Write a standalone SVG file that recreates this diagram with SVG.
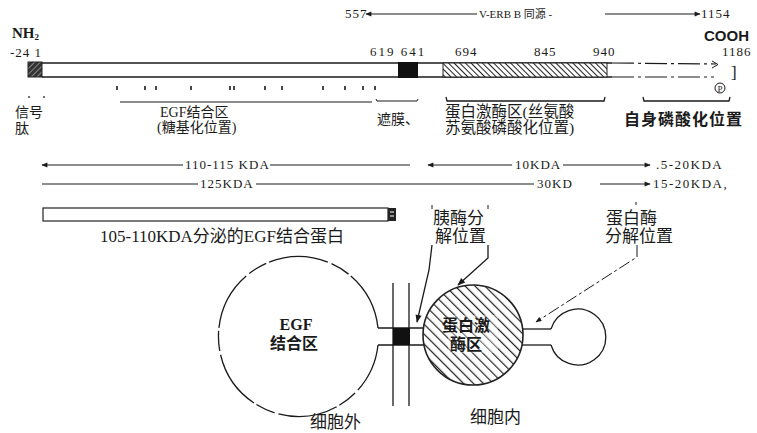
<svg xmlns="http://www.w3.org/2000/svg" width="757" height="433" viewBox="0 0 757 433">
  <style>
    text { font-family: "Liberation Serif", "Noto Sans CJK SC", serif; fill: #1a1a1a; }
    .num { font-size: 13px; letter-spacing: 1px; }
    .lbl { font-size: 14px; }
    .big { font-size: 17px; }
    .bold { font-weight: bold; }
    .ln { stroke: #1a1a1a; stroke-width: 1.3; fill: none; }
    .thin { stroke: #1a1a1a; stroke-width: 1; fill: none; }
    .dash { stroke: #1a1a1a; stroke-width: 1.2; fill: none; stroke-dasharray: 22 4 3 4; }
    .tick { stroke: #1a1a1a; stroke-width: 1.6; }
  </style>
  <defs>
    <marker id="arr" viewBox="0 0 10 10" refX="9" refY="5" markerWidth="7" markerHeight="6" orient="auto-start-reverse">
      <path d="M0,1 L10,5 L0,9 Z" fill="#1a1a1a"/>
    </marker>
    <pattern id="hatchK" width="4" height="4" patternUnits="userSpaceOnUse" patternTransform="rotate(-45)">
      <rect width="4" height="4" fill="#fff"/>
      <line x1="0" y1="0" x2="0" y2="4" stroke="#222" stroke-width="2"/>
    </pattern>
    <pattern id="hatchS" width="4" height="4" patternUnits="userSpaceOnUse" patternTransform="rotate(45)">
      <rect width="4" height="4" fill="#333"/>
      <line x1="0" y1="0" x2="0" y2="4" stroke="#ddd" stroke-width="1"/>
    </pattern>
    <pattern id="hatchC" width="7" height="7" patternUnits="userSpaceOnUse" patternTransform="rotate(-45)">
      <rect width="7" height="7" fill="#fff"/>
      <line x1="0" y1="0" x2="0" y2="7" stroke="#222" stroke-width="2.4"/>
    </pattern>
  </defs>

  <!-- v-erbB homology span -->
  <g id="homology">
    <text x="345" y="18" class="num">557</text>
    <line x1="366" y1="14" x2="477" y2="14" class="thin" marker-start="url(#arr)"/>
    <text x="479" y="18" style="font-size:11px">V-ERB B 同源 -</text>
    <line x1="605" y1="14" x2="700" y2="14" class="thin" marker-end="url(#arr)"/>
    <text x="701" y="18" class="num">1154</text>
  </g>

  <!-- receptor primary structure bar -->
  <g id="receptor-bar">
    <text x="12" y="38" class="bold" style="font-size:15px">NH<tspan style="font-size:9px" dy="2">2</tspan></text>
    <text x="10" y="57" class="num">-24 1</text>
    <text x="704" y="41" class="bold" style="font-size:15px; font-family:'Liberation Sans','Noto Sans CJK SC',sans-serif">COOH</text>
    <text x="722" y="56" class="num">1186</text>
    <text x="370" y="56" class="num" style="letter-spacing:2px">619 641</text>
    <text x="455" y="56" class="num">694</text>
    <text x="534" y="56" class="num">845</text>
    <text x="593" y="56" class="num">940</text>

    <rect x="28" y="62" width="14" height="15" fill="url(#hatchS)" stroke="#222" stroke-width="1"/>
    <line x1="42" y1="63" x2="612" y2="63" class="ln"/>
    <line x1="42" y1="77" x2="612" y2="77" class="ln"/>
    <line x1="612" y1="63" x2="716" y2="64" class="dash"/>
    <line x1="612" y1="77" x2="714" y2="77" class="dash"/>
    <path d="M712,61 L718,64.5 L712,68" class="thin"/>
    <rect x="398" y="62" width="20" height="16" fill="#111"/>
    <rect x="443" y="63" width="164" height="14" fill="url(#hatchK)" stroke="#222" stroke-width="1"/>
    <text x="731" y="78" style="font-size:17px">]</text>
    <circle cx="720" cy="88" r="5" class="thin"/>
    <text x="720" y="91.5" text-anchor="middle" style="font-size:9px">P</text>
  </g>

  <!-- glycosylation sites and region brackets -->
  <g id="sites">
    <g class="tick">
      <line x1="117" y1="86" x2="117" y2="90"/>
      <line x1="145" y1="86" x2="145" y2="90"/>
      <line x1="156" y1="86" x2="156" y2="90"/>
      <line x1="191" y1="86" x2="191" y2="90"/>
      <line x1="230" y1="86" x2="230" y2="90"/>
      <line x1="234" y1="86" x2="234" y2="90"/>
      <line x1="265" y1="86" x2="265" y2="90"/>
      <line x1="282" y1="86" x2="282" y2="90"/>
      <line x1="323" y1="86" x2="323" y2="90"/>
      <line x1="345" y1="86" x2="345" y2="90"/>
      <line x1="363" y1="86" x2="363" y2="90"/>
      <line x1="375" y1="86" x2="375" y2="90"/>
    </g>
    <circle cx="29" cy="97" r="0.9" fill="#333"/>
    <circle cx="44" cy="97" r="0.9" fill="#333"/>
    <line x1="120" y1="102" x2="372" y2="102" class="thin"/>
    <path d="M376,99 L377,101 L417,101 L418,99" class="thin"/>
    <path d="M446,97 L447,101 L604,101 L605,97" class="ln"/>
    <path d="M643,97 L644,101 L729,101 L730,97" class="ln"/>
  </g>

  <!-- region labels -->
  <g id="labels">
    <text x="15" y="117" class="lbl">信号</text>
    <text x="15" y="133" class="lbl">肽</text>
    <text x="160" y="117" class="lbl">EGF结合区</text>
    <text x="157" y="132" class="lbl">(糖基化位置)</text>
    <text x="377" y="124" class="lbl">遮膜、</text>
    <text x="445" y="117" style="font-size:15.5px">蛋白激酶区(丝氨酸</text>
    <text x="445" y="133" style="font-size:15.5px">苏氨酸磷酸化位置)</text>
    <text x="624" y="125" class="bold" style="font-size:16px; letter-spacing:1px">自身磷酸化位置</text>
  </g>

  <!-- fragment sizes -->
  <g id="fragments">
    <line x1="42" y1="165" x2="183" y2="165" class="thin" marker-start="url(#arr)"/>
    <text x="185" y="169" class="num">110-115 KDA</text>
    <line x1="270" y1="165" x2="410" y2="165" class="thin"/>
    <line x1="428" y1="165" x2="512" y2="165" class="thin" marker-start="url(#arr)"/>
    <text x="515" y="169" class="num">10KDA</text>
    <line x1="563" y1="165" x2="650" y2="165" class="thin" marker-end="url(#arr)"/>
    <text x="656" y="169" class="num" style="letter-spacing:1.5px">.5-20KDA</text>

    <line x1="42" y1="184" x2="198" y2="184" class="thin"/>
    <text x="200" y="188" class="num">125KDA</text>
    <line x1="256" y1="184" x2="534" y2="184" class="thin"/>
    <text x="537" y="188" class="num">30KD</text>
    <line x1="600" y1="184" x2="650" y2="184" class="thin" marker-end="url(#arr)"/>
    <text x="653" y="188" class="num" style="letter-spacing:1.5px">15-20KDA,</text>
  </g>

  <!-- secreted EGF-binding protein -->
  <g id="secreted">
    <rect x="43" y="208" width="345" height="13" fill="#fff" stroke="#222" stroke-width="1.2"/>
    <rect x="388" y="208" width="8" height="13" fill="#222"/>
    <line x1="390" y1="212" x2="394" y2="212" stroke="#fff" stroke-width="1"/>
    <line x1="390" y1="216" x2="394" y2="216" stroke="#fff" stroke-width="1"/>
    <text x="100" y="242" style="font-size:17px">105-110KDA分泌的EGF结合蛋白</text>
  </g>

  <!-- cleavage site labels -->
  <g id="cleavage-labels">
    <text x="433" y="224" class="big">胰酶分</text>
    <text x="435" y="242" class="big">解位置</text>
    <text x="606" y="224" class="big">蛋白酶</text>
    <text x="605" y="242" class="big">分解位置</text>
  </g>

  <!-- membrane -->
  <g id="membrane">
    <line x1="393" y1="283" x2="393" y2="406" class="ln"/>
    <line x1="409" y1="283" x2="409" y2="406" class="ln"/>
  </g>

  <!-- receptor drawn across the membrane -->
  <g id="egf-domain">
    <path d="M378,328 A80,80 0 1 0 378,345" class="ln" stroke-dasharray="60 3 20 4"/>
    <text x="296" y="330" text-anchor="middle" class="bold" style="font-size:16px">EGF</text>
    <text x="294" y="349" text-anchor="middle" class="bold" style="font-size:16px">结合区</text>
  </g>
  <g id="tm-segment">
    <line x1="378" y1="328" x2="425" y2="328" class="ln"/>
    <line x1="378" y1="345" x2="425" y2="345" class="ln"/>
    <rect x="393" y="328" width="17" height="17" fill="#111"/>
  </g>
  <g id="kinase-domain">
    <circle cx="473" cy="335" r="50" fill="url(#hatchC)" stroke="#222" stroke-width="1.6"/>
    <rect x="448" y="315" width="50" height="38" fill="#fff" opacity="0.35"/>
    <text x="466" y="331" text-anchor="middle" class="bold" style="font-size:16px">蛋白激</text>
    <text x="466" y="350" text-anchor="middle" class="bold" style="font-size:16px">酶区</text>
  </g>
  <g id="c-tail">
    <line x1="522" y1="329" x2="551" y2="329" class="ln"/>
    <line x1="522" y1="345" x2="551" y2="345" class="ln"/>
    <path d="M551,329 A28,28 0 1 1 551,345" class="ln"/>
  </g>

  <g id="compartments">
    <text x="310" y="428" class="big">细胞外</text>
    <text x="470" y="423" class="big">细胞内</text>
  </g>

  <!-- pointers from cleavage labels -->
  <g id="connectors">
    <line x1="432" y1="205" x2="432" y2="209" class="thin"/>
    <line x1="488" y1="205" x2="488" y2="209" class="thin"/>
    <line x1="636" y1="202" x2="636" y2="205" class="thin"/>
    <path d="M432,245 L429,270 L417,322" class="ln" marker-end="url(#arr)"/>
    <path d="M488,245 L488,258 L458,285" class="ln" marker-end="url(#arr)"/>
    <path d="M637,245 L637,257 L536,322" class="thin" stroke-dasharray="12 3 3 3" marker-end="url(#arr)"/>
  </g>
</svg>
